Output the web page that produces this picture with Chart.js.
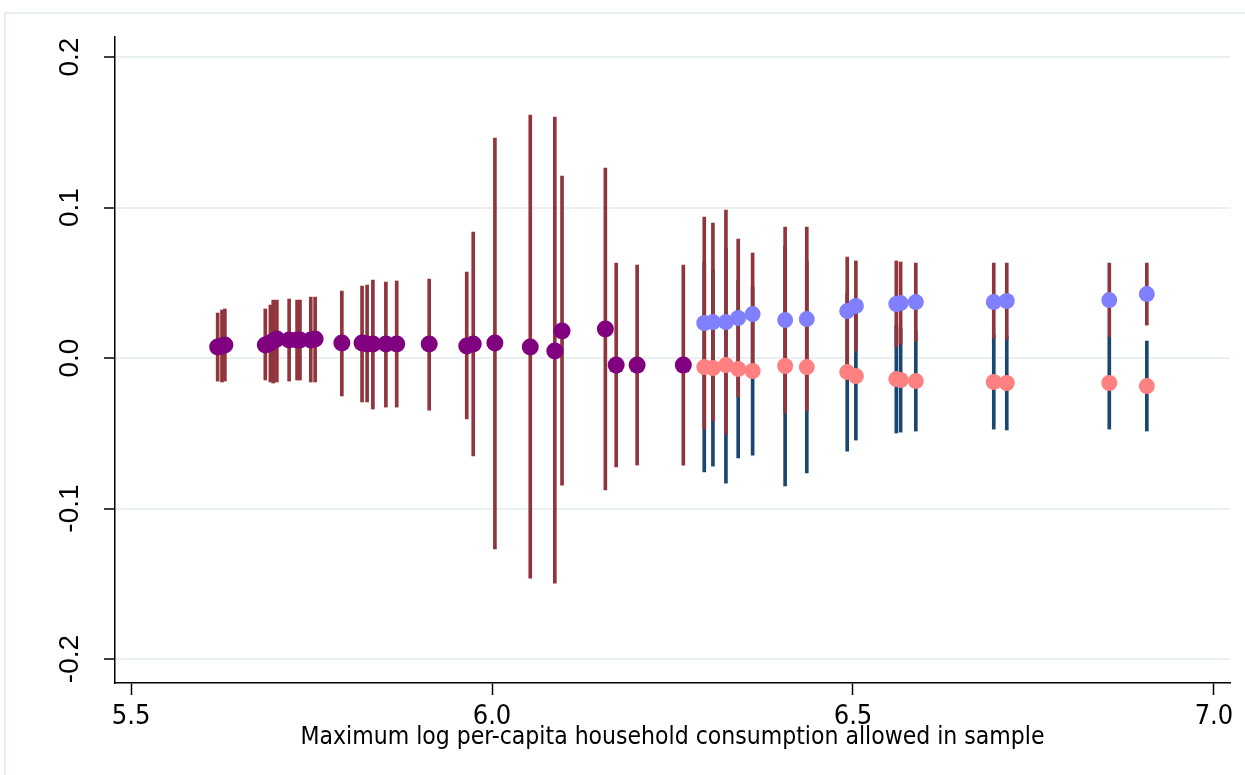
<!DOCTYPE html>
<html>
<head>
<meta charset="utf-8">
<script src="https://cdn.jsdelivr.net/npm/chart.js@4.4.0/dist/chart.umd.min.js"></script>
<style>
  html, body { margin: 0; padding: 0; background: #ffffff; }
  #wrap { width: 1245px; height: 775px; position: relative; }
</style>
</head>
<body>
<div id="wrap"><canvas id="chart" width="1245" height="775"></canvas></div>
<script>
// Tick values
const xTicks = [5.5, 6.0, 6.5, 7.0];
const yTicks = [-0.2, -0.1, 0.0, 0.1, 0.2];

// Pooled estimates (purple points, maroon CIs)
const purpleX  = [5.620, 5.626, 5.630, 5.686, 5.693, 5.697, 5.702, 5.719, 5.730, 5.734,
                  5.749, 5.755, 5.792, 5.820, 5.827, 5.835, 5.853, 5.868, 5.913, 5.965,
                  5.974, 6.004, 6.053, 6.087, 6.097, 6.157, 6.172, 6.201, 6.265];
const purpleY  = [0.0073, 0.0080, 0.0086, 0.0086, 0.0100, 0.0113, 0.0126, 0.0120, 0.0120, 0.0120,
                  0.0120, 0.0126, 0.0100, 0.0100, 0.0093, 0.0093, 0.0093, 0.0093, 0.0093, 0.0080,
                  0.0093, 0.0100, 0.0073, 0.0047, 0.0179, 0.0193, -0.0047, -0.0047, -0.0047];
const purpleHi = [0.0299, 0.0319, 0.0326, 0.0326, 0.0352, 0.0385, 0.0385, 0.0392, 0.0385, 0.0385,
                  0.0405, 0.0405, 0.0445, 0.0478, 0.0485, 0.0518, 0.0505, 0.0512, 0.0525, 0.0571,
                  0.0837, 0.1462, 0.1615, 0.1601, 0.1209, 0.1262, 0.0631, 0.0618, 0.0618];
const purpleLo = [-0.0153, -0.0159, -0.0153, -0.0146, -0.0159, -0.0166, -0.0159, -0.0153, -0.0146, -0.0146,
                  -0.0159, -0.0159, -0.0252, -0.0292, -0.0292, -0.0339, -0.0326, -0.0326, -0.0346, -0.0405,
                  -0.0651, -0.1269, -0.1462, -0.1495, -0.0844, -0.0877, -0.0724, -0.0711, -0.0711];

// Split estimates at higher cutoffs
const splitX  = [6.294, 6.306, 6.324, 6.341, 6.361, 6.406, 6.436, 6.492,
                 6.504, 6.560, 6.566, 6.587, 6.695, 6.713, 6.855, 6.907];

// Upper group (blue points, maroon CIs)
const blueY  = [0.0233, 0.0239, 0.0239, 0.0266, 0.0292, 0.0252, 0.0259, 0.0312,
                0.0346, 0.0359, 0.0365, 0.0372, 0.0372, 0.0379, 0.0385, 0.0425];
const blueHi = [0.0937, 0.0897, 0.0983, 0.0791, 0.0698, 0.0870, 0.0870, 0.0671,
                0.0645, 0.0645, 0.0638, 0.0631, 0.0631, 0.0631, 0.0631, 0.0631];
const blueLo = [-0.0472, -0.0419, -0.0505, -0.0259, -0.0113, -0.0365, -0.0352, -0.0047,
                0.0047, 0.0073, 0.0093, 0.0113, 0.0133, 0.0126, 0.0140, 0.0219];

// Lower group (pink points, navy CIs)
const pinkY  = [-0.0060, -0.0066, -0.0047, -0.0073, -0.0086, -0.0053, -0.0060, -0.0093,
                -0.0120, -0.0140, -0.0146, -0.0153, -0.0159, -0.0166, -0.0166, -0.0186];
const pinkHi = [0.0638, 0.0585, 0.0731, 0.0518, 0.0472, 0.0744, 0.0645, 0.0432,
                0.0306, 0.0219, 0.0199, 0.0179, 0.0153, 0.0146, 0.0140, 0.0113];
const pinkLo = [-0.0757, -0.0718, -0.0831, -0.0664, -0.0645, -0.0850, -0.0764, -0.0618,
                -0.0545, -0.0498, -0.0492, -0.0485, -0.0472, -0.0478, -0.0472, -0.0485];

const MAROON = '#90353b';
const NAVY = '#1a476f';
const NARROW = '"Liberation Sans Narrow", "DejaVu Sans Condensed", sans-serif';

const points = (xs, ys) => xs.map((x, i) => ({ x: x, y: ys[i] }));
const ranges = (xs, lo, hi) => xs.map((x, i) => ({ x: x, y: [lo[i], hi[i]] }));

function ciBars(data, color, order) {
    return {
        type: 'bar',
        data: data,
        backgroundColor: color,
        borderWidth: 0,
        barThickness: 3,
        grouped: false,
        order: order
    };
}

function dots(data, color, radius, order) {
    return {
        type: 'scatter',
        data: data,
        backgroundColor: color,
        borderWidth: 0,
        pointRadius: radius,
        order: order
    };
}

// frame around the graph region and rotated y tick labels
const framePlugin = {
    id: 'frame',
    beforeDraw(chart) {
        const ctx = chart.ctx;
        ctx.save();
        ctx.fillStyle = '#ffffff';
        ctx.fillRect(0, 0, chart.width, chart.height);
        ctx.strokeStyle = '#e7eeef';
        ctx.lineWidth = 2;
        ctx.strokeRect(5, 13, chart.width + 10, chart.height + 10);
        ctx.restore();
    },
    afterDraw(chart) {
        const ctx = chart.ctx;
        const ys = chart.scales.y;
        ctx.save();
        ctx.font = '28px "Liberation Sans", Arial, sans-serif';
        ctx.fillStyle = '#000000';
        ctx.textAlign = 'center';
        ctx.textBaseline = 'middle';
        yTicks.forEach(v => {
            ctx.save();
            ctx.translate(70, ys.getPixelForValue(v));
            ctx.rotate(-Math.PI / 2);
            ctx.fillText(v.toFixed(1), 0, 0);
            ctx.restore();
        });
        ctx.restore();
    }
};

new Chart(document.getElementById('chart'), {
    type: 'scatter',
    data: {
        datasets: [
            ciBars(ranges(splitX, pinkLo, pinkHi), NAVY, 6),
            ciBars(ranges(splitX, blueLo, blueHi), MAROON, 5),
            ciBars(ranges(purpleX, purpleLo, purpleHi), MAROON, 5),
            dots(points(splitX, pinkY), '#ff8080', 8, 3),
            dots(points(splitX, blueY), '#8080ff', 8, 2),
            dots(points(purpleX, purpleY), '#800080', 8.5, 1)
        ]
    },
    options: {
        responsive: false,
        animation: false,
        layout: { padding: { top: 37, right: 15, left: 0, bottom: 0 } },
        plugins: {
            legend: { display: false },
            tooltip: { enabled: false }
        },
        scales: {
            x: {
                type: 'linear',
                min: 5.4778,
                max: 7.0222,
                offset: false,
                afterBuildTicks: scale => { scale.ticks = xTicks.map(v => ({ value: v })); },
                afterFit: scale => { scale.height = 92; },
                border: { color: '#000000', width: 1.5 },
                grid: { offset: false, drawOnChartArea: false, tickColor: '#000000', tickLength: 12, tickWidth: 1.5 },
                ticks: {
                    color: '#000000',
                    padding: 6,
                    maxRotation: 0,
                    font: { family: NARROW, size: 27 },
                    callback: v => v.toFixed(1)
                },
                title: {
                    display: true,
                    text: 'Maximum log per-capita household consumption allowed in sample',
                    color: '#000000',
                    font: { family: NARROW, size: 24.5 },
                    padding: { top: 0, bottom: 23 }
                }
            },
            y: {
                type: 'linear',
                min: -0.2159,
                max: 0.2133,
                afterBuildTicks: scale => { scale.ticks = yTicks.map(v => ({ value: v })); },
                afterFit: scale => { scale.width = 115; },
                border: { color: '#000000', width: 1.5 },
                grid: { color: '#e9f0f1', lineWidth: 2, tickColor: '#000000', tickLength: 11, tickWidth: 1.5 },
                ticks: { display: false }
            }
        }
    },
    plugins: [framePlugin]
});
</script>
</body>
</html>
